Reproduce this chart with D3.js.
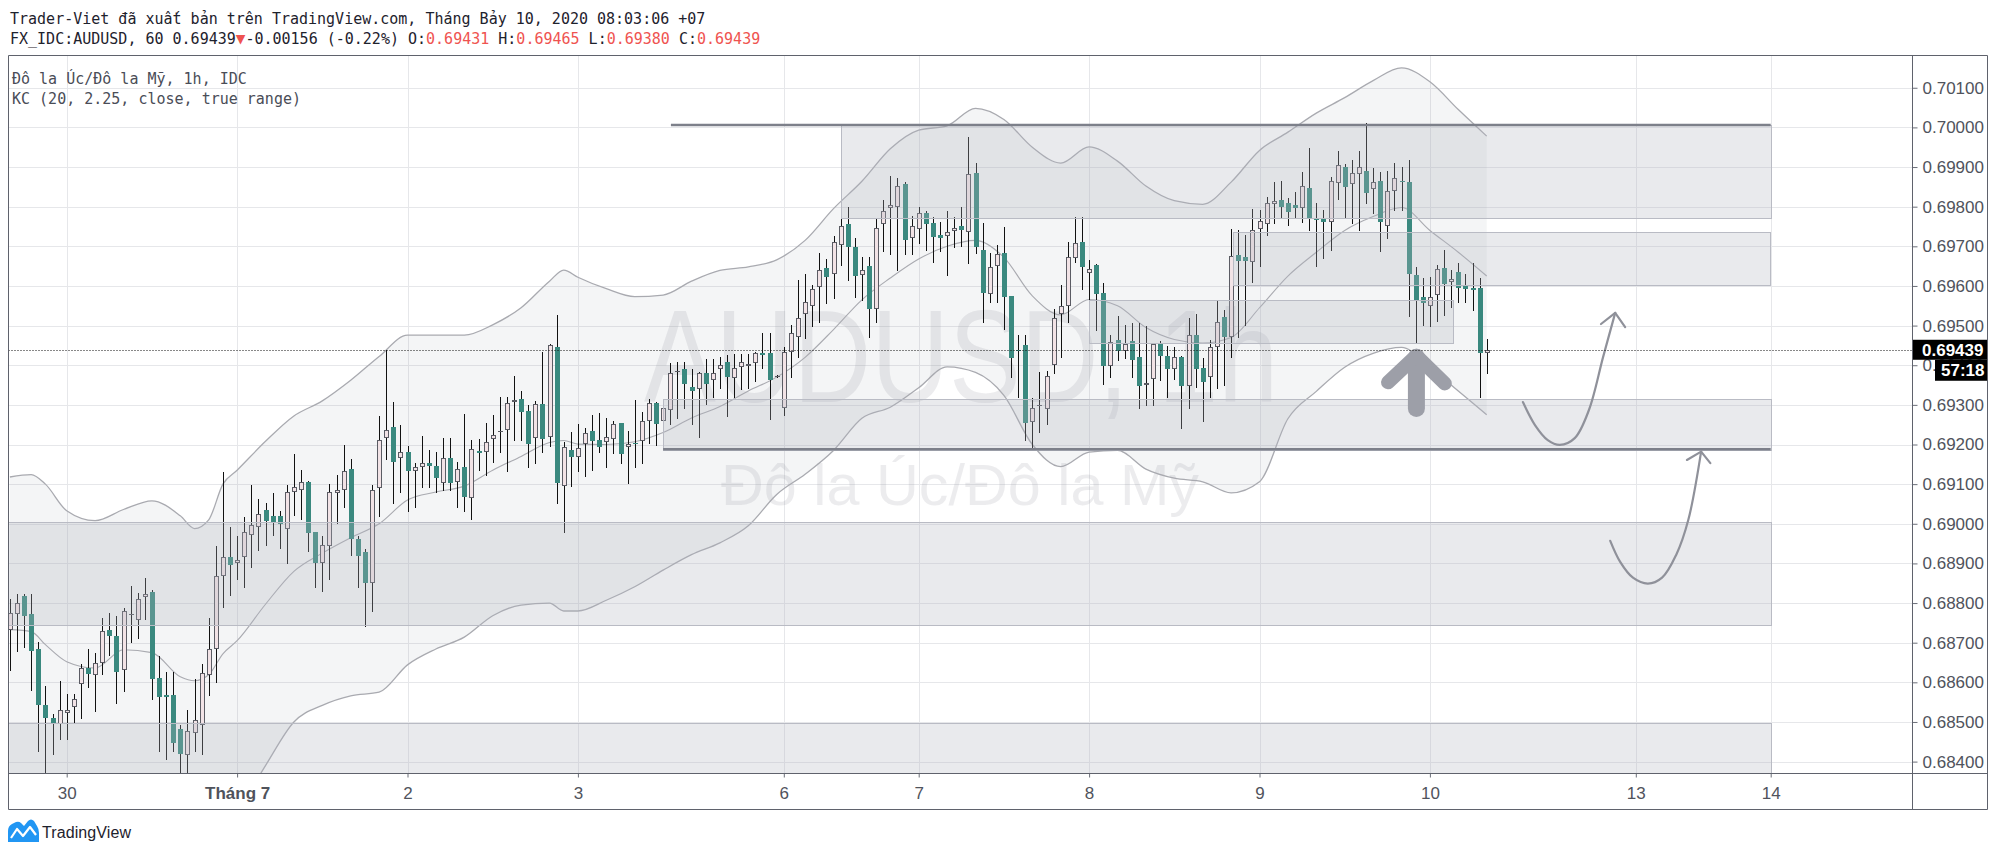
<!DOCTYPE html>
<html>
<head>
<meta charset="utf-8">
<script src="https://cdn.jsdelivr.net/npm/d3@7"></script>
<style>
  body { margin: 0; background: #fff; }
  svg { display: block; }
</style>
</head>
<body>
<svg id="chart" width="1996" height="856"></svg>
<script>
// ---- hourly candles, AUDUSD 1h (index 0 = first visible bar) ----
const opens = [
  .68733,.68773,.68819,.68773,.68684,.68542,.68509,.68496,.68523,.68538,
  .68595,.68637,.68619,.68650,.68733,.68716,.68631,.68769,.68756,.68816,
  .68828,.68610,.68567,.68567,.68483,.68416,.68473,.68493,.68618,.68684,
  .68868,.68915,.68902,.68915,.68972,.68993,.69035,.69020,.69020,.68988,
  .69080,.69086,.69105,.68978,.68902,.68944,.69077,.69084,.69137,.68961,
  .68930,.68850,.69090,.69216,.69243,.69165,.69182,.69132,.69142,.69153,
  .69147,.69104,.69165,.69106,.69144,.69066,.69184,.69182,.69213,.69231,
  .69237,.69308,.69316,.69285,.69216,.69302,.69218,.69447,.69095,.69186,
  .69169,.69201,.69234,.69211,.69206,.69213,.69253,.69193,.69205,.69210,
  .69259,.69304,.69259,.69287,.69383,.69390,.69344,.69339,.69380,.69363,
  .69391,.69407,.69367,.69395,.69398,.69405,.69430,.69432,.69373,.69293,
  .69433,.69472,.69528,.69550,.69598,.69645,.69629,.69703,.69756,.69698,
  .69628,.69650,.69541,.69756,.69796,.69798,.69857,.69720,.69743,.69783,
  .69758,.69729,.69726,.69739,.69752,.69735,.69884,.69691,.69579,.69650,
  .69684,.69575,.69439,.69451,.69258,.69296,.69289,.69401,.69528,.69550,
  .69670,.69710,.69632,.69653,.69583,.69399,.69464,.69437,.69462,.69420,
  .69350,.69364,.69453,.69424,.69390,.69422,.69348,.69476,.69392,.69371,
  .69445,.69521,.69472,.69678,.69674,.69661,.69743,.69756,.69806,.69817,
  .69810,.69804,.69796,.69846,.69768,.69772,.69761,.69859,.69899,.69857,
  .69883,.69890,.69844,.69865,.69750,.69840,.69866,.69863,.69628,.69571,
  .69549,.69577,.69645,.69609,.69636,.69600,.69596,.69595,.69431
];
const highs = [
  .68811,.68824,.68824,.68824,.68702,.68591,.68521,.68604,.68570,.68570,
  .68646,.68684,.68674,.68762,.68775,.68768,.68788,.68843,.68826,.68862,
  .68833,.68667,.68625,.68625,.68492,.68530,.68608,.68646,.68762,.68943,
  .69130,.68991,.68968,.69016,.69097,.69063,.69052,.69078,.69031,.69097,
  .69177,.69135,.69107,.68978,.68970,.69101,.69122,.69200,.69164,.68970,
  .68936,.69097,.69272,.69439,.69308,.69249,.69195,.69154,.69222,.69186,
  .69182,.69216,.69216,.69157,.69277,.69212,.69213,.69254,.69275,.69321,
  .69321,.69374,.69335,.69299,.69310,.69434,.69454,.69527,.69207,.69231,
  .69252,.69241,.69275,.69279,.69266,.69260,.69255,.69234,.69312,.69283,
  .69315,.69308,.69312,.69405,.69409,.69409,.69390,.69384,.69415,.69415,
  .69422,.69426,.69428,.69428,.69428,.69434,.69482,.69481,.69376,.69447,
  .69502,.69615,.69630,.69602,.69682,.69668,.69726,.69824,.69800,.69720,
  .69674,.69674,.69771,.69817,.69877,.69872,.69861,.69777,.69800,.69788,
  .69775,.69762,.69788,.69773,.69798,.69975,.69911,.69758,.69682,.69703,
  .69748,.69575,.69476,.69476,.69317,.69384,.69386,.69541,.69603,.69712,
  .69773,.69775,.69666,.69655,.69607,.69476,.69523,.69502,.69506,.69506,
  .69499,.69455,.69460,.69449,.69445,.69423,.69518,.69529,.69417,.69464,
  .69565,.69539,.69743,.69741,.69729,.69793,.69792,.69824,.69863,.69865,
  .69821,.69838,.69888,.69947,.69810,.69792,.69876,.69941,.69908,.69918,
  .69941,.70012,.69897,.69888,.69890,.69909,.69901,.69918,.69649,.69619,
  .69623,.69653,.69691,.69640,.69659,.69630,.69659,.69619,.69465
];
const lows = [
  .68631,.68680,.68690,.68581,.68428,.68373,.68418,.68458,.68458,.68498,
  .68509,.68589,.68528,.68620,.68669,.68549,.68579,.68701,.68713,.68761,
  .68559,.68428,.68407,.68428,.68369,.68373,.68428,.68418,.68568,.68600,
  .68790,.68820,.68861,.68841,.68891,.68933,.68946,.68971,.68940,.68902,
  .69022,.69012,.68932,.68840,.68830,.68860,.69003,.69043,.68921,.68841,
  .68741,.68779,.69020,.69163,.69052,.69081,.69031,.69042,.69092,.69092,
  .69081,.69084,.69085,.69042,.69031,.69011,.69136,.69123,.69157,.69182,
  .69132,.69212,.69212,.69142,.69153,.69182,.69195,.69052,.68980,.69095,
  .69132,.69121,.69136,.69182,.69144,.69178,.69153,.69102,.69142,.69154,
  .69203,.69199,.69203,.69252,.69266,.69291,.69252,.69220,.69302,.69321,
  .69342,.69272,.69321,.69339,.69342,.69359,.69392,.69264,.69370,.69274,
  .69371,.69422,.69468,.69499,.69510,.69558,.69569,.69653,.69615,.69573,
  .69565,.69470,.69510,.69689,.69681,.69639,.69681,.69681,.69709,.69691,
  .69661,.69689,.69628,.69699,.69701,.69659,.69684,.69510,.69560,.69560,
  .69491,.69371,.69321,.69211,.69186,.69232,.69252,.69380,.69422,.69510,
  .69661,.69592,.69552,.69489,.69353,.69371,.69412,.69417,.69371,.69291,
  .69300,.69300,.69363,.69321,.69364,.69241,.69291,.69346,.69260,.69321,
  .69342,.69350,.69422,.69472,.69502,.69611,.69650,.69729,.69758,.69775,
  .69754,.69775,.69762,.69740,.69650,.69670,.69691,.69819,.69771,.69758,
  .69740,.69809,.69783,.69689,.69720,.69792,.69792,.69523,.69459,.69502,
  .69499,.69512,.69527,.69548,.69560,.69560,.69539,.69321,.69380
];
const closes = [
  .68775,.68800,.68767,.68678,.68544,.68511,.68496,.68530,.68530,.68559,
  .68636,.68620,.68650,.68730,.68718,.68625,.68779,.68773,.68811,.68822,
  .68608,.68564,.68564,.68448,.68418,.68476,.68506,.68623,.68684,.68868,
  .68915,.68895,.68908,.68980,.68997,.69025,.69008,.69003,.68999,.69080,
  .69092,.69105,.68976,.68902,.68947,.69080,.69084,.69133,.68961,.68919,
  .68850,.69086,.69212,.69237,.69157,.69182,.69132,.69142,.69153,.69147,
  .69116,.69165,.69104,.69137,.69068,.69189,.69178,.69206,.69224,.69235,
  .69304,.69312,.69281,.69201,.69302,.69213,.69451,.69102,.69193,.69169,
  .69190,.69228,.69210,.69193,.69220,.69252,.69175,.69201,.69201,.69259,
  .69304,.69251,.69291,.69380,.69386,.69352,.69335,.69380,.69352,.69380,
  .69401,.69370,.69392,.69409,.69402,.69430,.69426,.69363,.69373,.69433,
  .69481,.69518,.69559,.69592,.69639,.69622,.69712,.69751,.69699,.69625,
  .69639,.69541,.69745,.69788,.69804,.69852,.69716,.69751,.69783,.69756,
  .69723,.69720,.69737,.69745,.69741,.69883,.69699,.69581,.69649,.69681,
  .69571,.69419,.69437,.69253,.69293,.69300,.69373,.69518,.69550,.69674,
  .69709,.69649,.69643,.69580,.69398,.69458,.69437,.69453,.69412,.69348,
  .69354,.69453,.69424,.69390,.69420,.69348,.69476,.69390,.69357,.69445,
  .69508,.69472,.69676,.69664,.69664,.69740,.69764,.69810,.69814,.69798,
  .69787,.69796,.69852,.69771,.69766,.69761,.69866,.69905,.69849,.69886,
  .69899,.69835,.69863,.69762,.69840,.69873,.69864,.69629,.69565,.69556,
  .69571,.69643,.69605,.69618,.69594,.69592,.69591,.69430,.69439
];

// ---- Keltner channel (20, 2.25) at these bars ----
const kcIndex = [0,3,5,8,12,16,20,24,26,28,30,32,36,40,44,48,52,56,60,64,68,72,76,78,80,84,88,92,96,100,
  104,108,112,116,120,124,128,132,136,140,144,148,152,156,160,164,168,172,176,180,184,188,192,196,200,204,208];
const kcUpper = [.69118,.69124,.69100,.69033,.69008,.69036,.69058,.69020,.68988,.69010,.69100,.69135,.69208,.69272,
  .69310,.69362,.69422,.69476,.69476,.69476,.69502,.69545,.69612,.69640,.69622,.69593,.69573,.69577,.69612,.69639,
  .69648,.69666,.69715,.69795,.69864,.69946,.69993,.70004,.70048,.70020,.69950,.69910,.69951,.69915,.69852,.69815,
  .69806,.69862,.69942,.69988,.70036,.70075,.70118,.70150,.70115,.70045,.69978];
const kcMiddle = [.68733,.68728,.68695,.68652,.68636,.68682,.68675,.68614,.68604,.68619,.68672,.68705,.68797,.68880,
  .68926,.68965,.69000,.69060,.69080,.69095,.69135,.69170,.69205,.69210,.69201,.69200,.69207,.69230,.69267,.69296,
  .69335,.69370,.69420,.69490,.69565,.69620,.69668,.69700,.69715,.69672,.69575,.69527,.69566,.69550,.69495,.69465,
  .69456,.69470,.69545,.69625,.69685,.69740,.69775,.69798,.69740,.69685,.69625];
const kcLower = [.68348,.68332,.68290,.68271,.68264,.68328,.68292,.68208,.68220,.68228,.68244,.68275,.68390,.68500,
  .68542,.68566,.68575,.68644,.68684,.68714,.68768,.68795,.68800,.68780,.68780,.68807,.68841,.68883,.68922,.68952,
  .68995,.69074,.69125,.69185,.69266,.69294,.69343,.69396,.69382,.69324,.69200,.69144,.69181,.69185,.69138,.69115,
  .69106,.69078,.69106,.69265,.69334,.69395,.69430,.69445,.69395,.69335,.69275];

// ---- axes ----
const priceTicks = [.684,.685,.686,.687,.688,.689,.690,.691,.692,.693,.694,.695,.696,.697,.698,.699,.700,.701];
const dayTicks  = [8, 32, 56, 80, 109, 128, 152, 176, 200, 229, 248];
const dayLabels = ["30", "Tháng 7", "2", "3", "6", "7", "8", "9", "10", "13", "14"];
const lastPrice = 0.69439;

// ---- drawings: zones [fromBar, toBar, top, bottom] and level lines [fromBar, toBar, price] ----
const zones = [
  [117.0, 248, .70006, .69771],
  [172.3, 248, .69735, .69601],
  [152.0, 203.2, .69565, .69456],
  [92.0, 248, .69316, .69188],
  [-3, 248, .69005, .68745],
  [-3, 248, .68498, .68300]
];
const levels = [
  [93.1, 248, .70006],
  [92.0, 248, .69188]
];
const curveUp   = [[213.1,.69307],[214.8,.69249],[216.6,.69211],[218.3,.69199],[220.4,.69216],[222.4,.69287],[224.4,.69421],[226.1,.69532]];
const curveUpHead = [[224.1,.69504],[226.1,.69532],[227.5,.69496]];
const curveLow  = [[225.4,.68957],[226.8,.68904],[228.6,.68864],[230.7,.68849],[232.7,.68864],[234.7,.68922],[236.4,.69010],[238.2,.69182]];
const curveLowHead = [[236.2,.69161],[238.2,.69182],[239.5,.69153]];
const bigArrowHead = [[194.1,.69357],[198.1,.69424],[202.1,.69354]];
const bigArrowShaft = [[198.1,.69420],[198.1,.69291]];

// ---------------------------------------------------------------
const svg = d3.select("#chart");
const plot = { left: 8.5, right: 1912.5, top: 55.5, bottom: 773.5, edge: 1987.5, foot: 809.5 };

const x = d3.scaleLinear().domain([0, 208]).range([9.9, 1486.7]);
const y = d3.scaleLinear().domain([0.684, 0.700]).range([761.6, 127.4]);
const crisp = v => Math.round(v) + 0.5;

svg.append("rect").attr("width", 1996).attr("height", 856).attr("fill", "#fff");

svg.append("clipPath").attr("id", "plotClip")
  .append("rect").attr("x", 9).attr("y", 56).attr("width", 1903).attr("height", 717);

// header
const mono = "'DejaVu Sans Mono', monospace";
svg.append("text").attr("x", 10).attr("y", 24)
  .attr("font-family", mono).attr("font-size", 15).attr("fill", "#1e222d")
  .text("Trader-Viet đã xuất bản trên TradingView.com, Tháng Bảy 10, 2020 08:03:06 +07");

const info = svg.append("text").attr("x", 10).attr("y", 43.5)
  .attr("font-family", mono).attr("font-size", 15).attr("fill", "#1e222d");
const red = "#ef5350";
[["FX_IDC:AUDUSD, 60 0.69439", null, 15], ["▼", red, 16], ["-0.00156 (-0.22%) O:", null, 15], ["0.69431", red, 15],
 [" H:", null, 15], ["0.69465", red, 15], [" L:", null, 15], ["0.69380", red, 15], [" C:", null, 15], ["0.69439", red, 15]]
  .forEach(([t, c, s]) => info.append("tspan").attr("fill", c || "#1e222d").attr("font-size", s).text(t));

// chart body
const plotArea = svg.append("g").attr("clip-path", "url(#plotClip)");

// grid
plotArea.append("g").selectAll("line").data(priceTicks).join("line")
  .attr("x1", plot.left).attr("x2", plot.right)
  .attr("y1", d => crisp(y(d))).attr("y2", d => crisp(y(d)))
  .attr("stroke", "#e6e7ea");
plotArea.append("g").selectAll("line").data(dayTicks).join("line")
  .attr("x1", d => crisp(x(d))).attr("x2", d => crisp(x(d)))
  .attr("y1", plot.top).attr("y2", plot.bottom)
  .attr("stroke", "#e6e7ea");

// watermark
const wm = plotArea.append("g").attr("fill", "rgba(140,143,155,0.17)").attr("font-family", "'Liberation Sans', Arial, sans-serif");
wm.append("text").attr("x", 961).attr("y", 402).attr("text-anchor", "middle")
  .attr("font-size", 132).attr("textLength", 634).attr("lengthAdjust", "spacingAndGlyphs")
  .text("AUDUSD, 1h");
wm.append("text").attr("x", 960).attr("y", 505).attr("text-anchor", "middle")
  .attr("font-size", 58).attr("textLength", 478).attr("lengthAdjust", "spacingAndGlyphs")
  .text("Đô la Úc/Đô la Mỹ");

// Keltner channel
const kc = kcIndex.map((j, k) => ({ j, u: kcUpper[k], m: kcMiddle[k], l: kcLower[k] }));
plotArea.append("path").datum(kc)
  .attr("d", d3.area().x(d => x(d.j)).y0(d => y(d.l)).y1(d => y(d.u)).curve(d3.curveMonotoneX))
  .attr("fill", "rgba(120,123,134,0.08)");
[["u", 1.3], ["m", 1.1], ["l", 1.3]].forEach(([k, w]) => {
  plotArea.append("path").datum(kc)
    .attr("d", d3.line().x(d => x(d.j)).y(d => y(d[k])).curve(d3.curveMonotoneX))
    .attr("fill", "none").attr("stroke", "#a9aab0").attr("stroke-width", w);
});

// candles
const bars = opens.map((o, i) => ({ i, o, h: highs[i], l: lows[i], c: closes[i], up: closes[i] >= o }));
const cx = d => Math.round(x(d.i));
const bodyTop = d => Math.round(y(Math.max(d.o, d.c)));
const bodyH = d => Math.max(1, Math.round(y(Math.min(d.o, d.c))) - bodyTop(d));
const gc = plotArea.append("g");
gc.selectAll("line").data(bars).join("line")
  .attr("x1", d => cx(d) + 0.5).attr("x2", d => cx(d) + 0.5)
  .attr("y1", d => Math.round(y(d.h))).attr("y2", d => Math.round(y(d.l)) + 1)
  .attr("stroke", "#111");
gc.selectAll("rect.b").data(bars).join("rect").attr("class", "b")
  .attr("x", d => cx(d) - 2).attr("width", 5)
  .attr("y", bodyTop).attr("height", bodyH)
  .attr("fill", d => d.up ? "#5b5c64" : "#3a897f");
gc.selectAll("rect.f").data(bars.filter(d => d.up && bodyH(d) >= 3)).join("rect").attr("class", "f")
  .attr("x", d => cx(d) - 1).attr("width", 3)
  .attr("y", d => bodyTop(d) + 1).attr("height", d => bodyH(d) - 2)
  .attr("fill", "#f2e3e6");

// zones and levels
plotArea.append("g").selectAll("rect").data(zones).join("rect")
  .attr("x", d => crisp(x(d[0]))).attr("width", d => Math.round(x(d[1]) - x(d[0])))
  .attr("y", d => crisp(y(d[2]))).attr("height", d => Math.round(y(d[3]) - y(d[2])))
  .attr("fill", "rgba(176,179,192,0.28)").attr("stroke", "#b9bbc4").attr("stroke-width", 1);
plotArea.append("g").selectAll("line").data(levels).join("line")
  .attr("x1", d => x(d[0])).attr("x2", d => x(d[1]))
  .attr("y1", d => y(d[2])).attr("y2", d => y(d[2]))
  .attr("stroke", "#7d808a").attr("stroke-width", 2.5);

// hand drawn arrows
const pline = d3.line().x(d => x(d[0])).y(d => y(d[1]));
const g2 = plotArea.append("g").attr("fill", "none").attr("stroke", "#8f919a").attr("stroke-width", 2.2)
  .attr("stroke-linecap", "round").attr("stroke-linejoin", "round");
[curveUp, curveLow].forEach(c => g2.append("path").attr("d", pline.curve(d3.curveCatmullRom)(c)));
pline.curve(d3.curveLinear);
[curveUpHead, curveLowHead].forEach(c => g2.append("path").attr("d", pline(c)));

const g3 = plotArea.append("g").attr("fill", "none").attr("stroke", "#9d9fa8")
  .attr("stroke-linecap", "round").attr("stroke-linejoin", "round");
g3.append("path").attr("d", pline(bigArrowShaft)).attr("stroke-width", 17);
g3.append("path").attr("d", pline(bigArrowHead)).attr("stroke-width", 14);

// last price line
plotArea.append("line").attr("x1", plot.left).attr("x2", plot.right)
  .attr("y1", crisp(y(lastPrice))).attr("y2", crisp(y(lastPrice)))
  .attr("stroke", "#111").attr("stroke-dasharray", "1,2");

// legend
const lg = svg.append("g").attr("font-family", mono).attr("font-size", 15).attr("fill", "#4a4d57");
lg.append("text").attr("x", 12).attr("y", 84).text("Đô la Úc/Đô la Mỹ, 1h, IDC");
lg.append("text").attr("x", 12).attr("y", 104).text("KC (20, 2.25, close, true range)");

// axes
const axisFont = "'Liberation Sans Narrow', 'Liberation Sans', Arial, sans-serif";
const yAxis = svg.append("g").attr("transform", `translate(${plot.right},0)`)
  .call(d3.axisRight(y).tickValues(priceTicks).tickFormat(d3.format(".5f")).tickSize(5).tickPadding(5));
const xAxis = svg.append("g").attr("transform", `translate(0,${plot.bottom})`)
  .call(d3.axisBottom(x).tickValues(dayTicks).tickFormat((d, i) => dayLabels[i]).tickSize(4).tickPadding(9));
[yAxis, xAxis].forEach(a => {
  a.select(".domain").remove();
  a.selectAll("line").attr("stroke", "#6b6e78");
  a.selectAll("text").attr("fill", "#50535c").attr("font-family", axisFont).attr("font-size", 17);
});
xAxis.selectAll("text").attr("font-weight", (d, i) => i === 1 ? "bold" : null);

// frame
const frameG = svg.append("g").attr("stroke", "#5f626c").attr("fill", "none");
frameG.append("path").attr("d",
  `M${plot.left},${plot.top}H${plot.edge}V${plot.foot}H${plot.left}Z` +
  `M${plot.right},${plot.top}V${plot.foot}M${plot.left},${plot.bottom}H${plot.edge}`);

// price / countdown labels
const ly = y(lastPrice);
svg.append("rect").attr("x", 1913).attr("y", ly - 10).attr("width", 74).attr("height", 20).attr("fill", "#000");
svg.append("text").attr("x", 1922).attr("y", ly + 6).attr("fill", "#fff").attr("font-weight", "bold")
  .attr("font-family", axisFont).attr("font-size", 17).text(d3.format(".5f")(lastPrice));
svg.append("rect").attr("x", 1935).attr("y", ly + 10).attr("width", 52).attr("height", 21).attr("fill", "#000");
svg.append("text").attr("x", 1941).attr("y", ly + 26).attr("fill", "#fff").attr("font-weight", "bold")
  .attr("font-family", axisFont).attr("font-size", 17).text("57:18");

// TradingView logo
const logo = svg.append("g");
logo.append("path")
  .attr("d", "M8,842 V831 Q8,826 12,824 L16,822 Q19,821 21,823 L24,826 L28,821 Q31,818 34,821 L37,826 Q39,829 39,833 V842 Z")
  .attr("fill", "#2196f3");
logo.append("path").attr("d", "M11,838 L17,829 L23,836 L30,827 L36,835")
  .attr("fill", "none").attr("stroke", "#fff").attr("stroke-width", 2.2).attr("stroke-linejoin", "round");
svg.append("text").attr("x", 42).attr("y", 838).attr("font-family", "'Liberation Sans', Arial, sans-serif")
  .attr("font-size", 16).attr("fill", "#1e222d").attr("textLength", 89).text("TradingView");
</script>
</body>
</html>
